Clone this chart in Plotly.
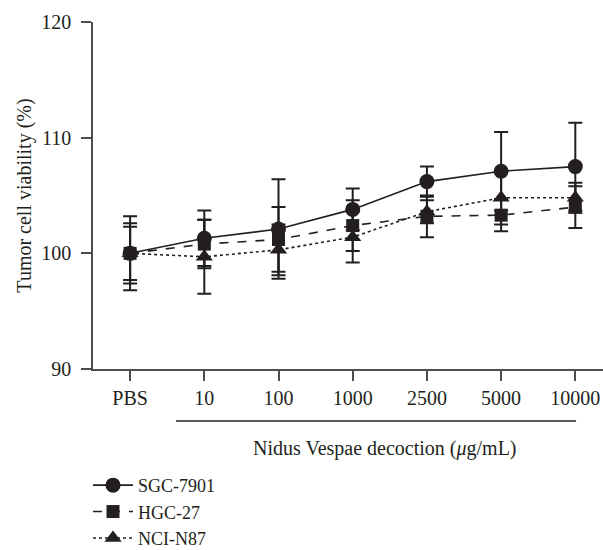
import plotly.graph_objects as go

# Concentration groups (µg/mL) on a categorical axis
categories = ["PBS", "10", "100", "1000", "2500", "5000", "10000"]

# Mean tumour cell viability (%) and SD per cell line
sgc_mean = [100.0, 101.3, 102.1, 103.8, 106.2, 107.1, 107.5]
sgc_sd = [3.2, 2.4, 4.3, 1.8, 1.3, 3.4, 3.8]

hgc_mean = [100.0, 100.8, 101.2, 102.4, 103.2, 103.3, 104.0]
hgc_sd = [2.6, 2.1, 2.8, 2.2, 1.8, 1.4, 1.8]

nci_mean = [100.0, 99.7, 100.3, 101.4, 103.6, 104.8, 104.8]
nci_sd = [2.3, 3.2, 2.2, 2.2, 1.0, 2.3, 1.3]

y_ticks = [90, 100, 110, 120]

FONT = "Liberation Serif"
INK = "#231f20"
AXIS = "#4d4d4d"

x_idx = list(range(len(categories)))

series = [
    # drawn bottom to top; legend order set by legendrank
    ("NCI-N87", nci_mean, nci_sd, "triangle-up", 15, "dot", 3),
    ("HGC-27", hgc_mean, hgc_sd, "square", 13, "dash", 2),
    ("SGC-7901", sgc_mean, sgc_sd, "circle", 15, "solid", 1),
]

fig = go.Figure()
for name, mean, sd, symbol, size, dash, rank in series:
    fig.add_trace(go.Scatter(
        x=x_idx, y=mean, name=name, mode="lines+markers",
        line=dict(color=INK, width=1.6, dash=dash),
        marker=dict(symbol=symbol, size=size, color=INK),
        error_y=dict(type="data", array=sd, visible=True,
                     color=INK, thickness=2, width=7),
        legendrank=rank,
    ))

fig.update_layout(
    width=603, height=550,
    margin=dict(l=93, r=0, t=22, b=181, autoexpand=False),
    plot_bgcolor="white", paper_bgcolor="white",
    font=dict(family=FONT, size=20, color=INK),
    showlegend=True,
    legend=dict(
        xref="paper", x=-0.0098, xanchor="left",
        yref="container", y=0.151, yanchor="top",
        font=dict(family=FONT, size=18, color=INK),
        bgcolor="rgba(0,0,0,0)", tracegroupgap=0,
        itemwidth=40,
    ),
    xaxis=dict(
        range=[-0.5, 6.373],
        tickmode="array", tickvals=x_idx, ticktext=categories,
        showline=True, linecolor=AXIS, linewidth=1.5,
        ticks="outside", ticklen=10, tickwidth=1.5, tickcolor=AXIS,
        showgrid=False, zeroline=False,
        tickfont=dict(family=FONT, size=20, color=INK),
    ),
    yaxis=dict(
        range=[90, 120],
        tickmode="array", tickvals=y_ticks,
        showline=True, linecolor=AXIS, linewidth=1.5,
        ticks="outside", ticklen=10, tickwidth=1.5, tickcolor=AXIS,
        ticklabelstandoff=6,
        showgrid=False, zeroline=False,
        tickfont=dict(family=FONT, size=20, color=INK),
        title=dict(text="Tumor cell viability (%)", standoff=4,
                   font=dict(family=FONT, size=20, color=INK)),
    ),
)

# Bracket line under the treated concentrations and its caption
fig.add_shape(type="line", xref="x", yref="paper",
              x0=0.62, x1=6.01, y0=-0.15, y1=-0.15,
              line=dict(color=INK, width=1.5))
fig.add_annotation(text="Nidus Vespae decoction (<i>μ</i>g/mL)",
                   xref="paper", yref="paper", x=0.5735, y=-0.228,
                   xanchor="center", yanchor="middle", showarrow=False,
                   font=dict(family=FONT, size=20, color=INK))

fig.write_html("out.html")
